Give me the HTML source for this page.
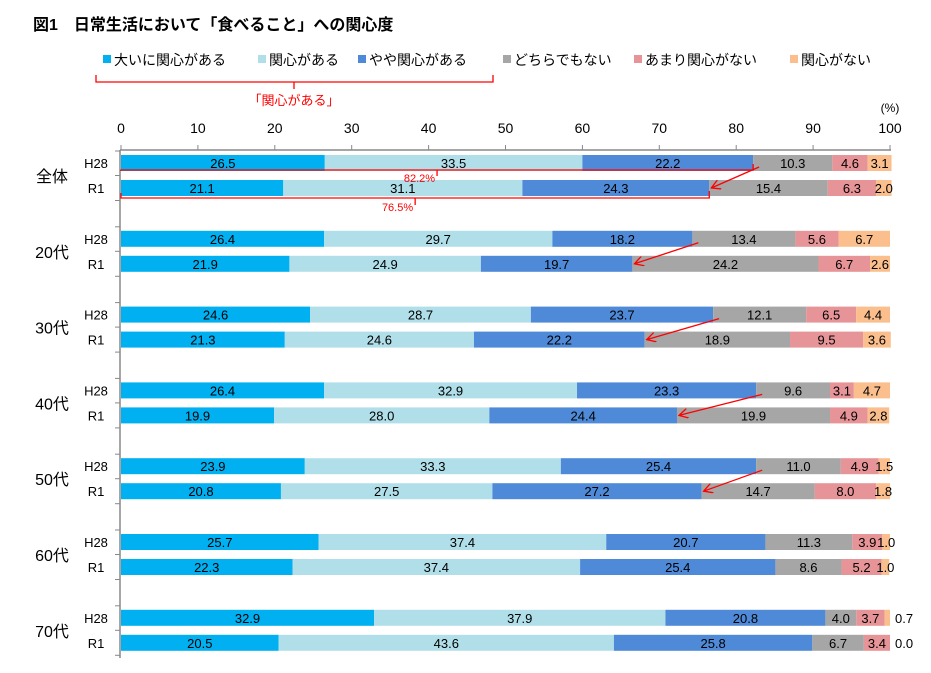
<!DOCTYPE html>
<html><head><meta charset="utf-8">
<style>
body{margin:0;background:#fff;font-family:"Liberation Sans","Noto Sans CJK JP",sans-serif;}
svg text{font-family:"Liberation Sans","Noto Sans CJK JP",sans-serif;}
</style></head>
<body>
<svg id="c" width="931" height="668" viewBox="0 0 931 668" xmlns="http://www.w3.org/2000/svg">
<text x="33" y="30" font-size="16" font-weight="bold" fill="#000">図1　日常生活において「食べること」への関心度</text>
<g id="legend"></g>
<g>
<path d="M96,75 L96,82 L493,82 L493,75 M294,82 L294,89" stroke="#f00" stroke-width="1.3" fill="none"/>
<text x="294" y="105" font-size="13" fill="#f00" text-anchor="middle">「関心がある」</text>
</g>
<g id="axis"></g>
<g id="bars"></g>
<g id="ann"></g>
</svg>
<script>
const groups=["全体","20代","30代","40代","50代","60代","70代"];
const years=["H28","R1"];
const seriesNames=["大いに関心がある","関心がある","やや関心がある","どちらでもない","あまり関心がない","関心がない"];
const h28=[[26.5,33.5,22.2,10.3,4.6,3.1],[26.4,29.7,18.2,13.4,5.6,6.7],[24.6,28.7,23.7,12.1,6.5,4.4],[26.4,32.9,23.3,9.6,3.1,4.7],[23.9,33.3,25.4,11.0,4.9,1.5],[25.7,37.4,20.7,11.3,3.9,1.0],[32.9,37.9,20.8,4.0,3.7,0.7]];
const r1=[[21.1,31.1,24.3,15.4,6.3,2.0],[21.9,24.9,19.7,24.2,6.7,2.6],[21.3,24.6,22.2,18.9,9.5,3.6],[19.9,28.0,24.4,19.9,4.9,2.8],[20.8,27.5,27.2,14.7,8.0,1.8],[22.3,37.4,25.4,8.6,5.2,1.0],[20.5,43.6,25.8,6.7,3.4,0.0]];
const arrowGroups=[0,1,2,3,4];
const ticks=[0,10,20,30,40,50,60,70,80,90,100];
const colors=["#00b0f0","#b0dfe9","#4f8ad8","#a6a6a6","#e69497","#fbbf8d"];
const NS="http://www.w3.org/2000/svg";
const X=v=>121+v*7.69;
const gy=i=>163+i*75.8;
function mk(t,a,p){const e=document.createElementNS(NS,t);for(const k in a)e.setAttribute(k,a[k]);p.appendChild(e);return e;}
const lg=document.getElementById('legend');
const lx=[103,258,358,503,634,790];
seriesNames.forEach((n,i)=>{
 const g=mk('g',{},lg);
 
 
 mk('rect',{x:lx[i],y:55,width:8,height:8,fill:colors[i]},g);
 const t=mk('text',{x:lx[i]+11,y:65,'font-size':14,fill:'#000'},g);t.textContent=n;
});
const ax=document.getElementById('axis');
mk('line',{x1:120,y1:150,x2:891,y2:150,stroke:'#888','stroke-width':1.5},ax);
mk('line',{x1:120,y1:150,x2:120,y2:658,stroke:'#888','stroke-width':1.5},ax);
ticks.forEach(t=>{
 mk('line',{x1:X(t),y1:145,x2:X(t),y2:150,stroke:'#888'},ax);
 const tx=mk('text',{x:X(t),y:133,'font-size':14,'text-anchor':'middle',fill:'#000'},ax);
 
 
 tx.textContent=t;
});
const pc=mk('text',{x:890,y:112,'font-size':12,'text-anchor':'middle',fill:'#000'},ax);pc.textContent="(%)";
for(let i=0;i<groups.length;i++){
 [gy(i)-12,gy(i)+12.5,gy(i)+37.5].forEach(y=>mk('line',{x1:115,y1:y,x2:120,y2:y,stroke:'#888'},ax));
}
const bg=document.getElementById('bars');
groups.forEach((gname,i)=>{
 const gl=mk('text',{x:52,y:gy(i)+19,'font-size':16,'text-anchor':'middle',fill:'#000'},bg);
 
 
 gl.textContent=gname;
 [h28[i],r1[i]].forEach((vals,j)=>{
  const cy=gy(i)+j*25;
  const yl=mk('text',{x:96,y:cy+5,'font-size':13,'text-anchor':'middle',fill:'#000'},bg);
  
  
  yl.textContent=years[j];
  let c=0;
  vals.forEach((v,k)=>{
   const r=mk('rect',{x:X(c),y:cy-8,width:Math.max(0,X(c+v)-X(c)),height:16,fill:colors[k]},bg);
   
   
   const t=mk('text',{'font-size':13,fill:'#000'},bg);
   if(k==5&&v<0.9){t.setAttribute('x',X(c+v)+5);t.setAttribute('text-anchor','start');}
   else{t.setAttribute('x',(X(c)+X(c+v))/2);t.setAttribute('text-anchor','middle');}
   t.setAttribute('y',cy+5);
   t.textContent=v.toFixed(1);
   c+=v;
  });
 });
});
const an=document.getElementById('ann');
mk('defs',{},an).innerHTML='<marker id="ah" markerWidth="10" markerHeight="10" refX="9" refY="5" orient="auto" markerUnits="userSpaceOnUse"><path d="M0,0 L9,5 L0,10" fill="none" stroke="#f00" stroke-width="1.3"/></marker>';
arrowGroups.forEach(i=>{
 const a=h28[i][0]+h28[i][1]+h28[i][2], b=r1[i][0]+r1[i][1]+r1[i][2];
 const ar=mk('line',{x1:X(a)+6,y1:gy(i)+4,x2:X(b)+2,y2:gy(i)+25,stroke:'#f00','stroke-width':1.3,'marker-end':'url(#ah)'},an);
 
 
});
const a0=h28[0][0]+h28[0][1]+h28[0][2], b0=r1[0][0]+r1[0][1]+r1[0][2];
const y0=gy(0);
mk('path',{d:`M${X(0)},${y0+8} L${X(0)},${y0+7} L${X(a0)},${y0+7} L${X(a0)},${y0+1} M${X(a0/2)},${y0+7} L${X(a0/2)},${y0+13}`,stroke:'#f00','stroke-width':1.3,fill:'none'},an);
const t1=mk('text',{x:X(a0/2)-2,y:y0+19,'font-size':11,'text-anchor':'end',fill:'#f00'},an);t1.textContent=a0.toFixed(1)+"%";
mk('path',{d:`M${X(0)},${y0+30} L${X(0)},${y0+35} L${X(b0)},${y0+35} L${X(b0)},${y0+28} M${X(b0/2)},${y0+35} L${X(b0/2)},${y0+42}`,stroke:'#f00','stroke-width':1.3,fill:'none'},an);
const t2=mk('text',{x:X(b0/2)-2,y:y0+48,'font-size':11,'text-anchor':'end',fill:'#f00'},an);t2.textContent=b0.toFixed(1)+"%";
</script>
</body></html>
